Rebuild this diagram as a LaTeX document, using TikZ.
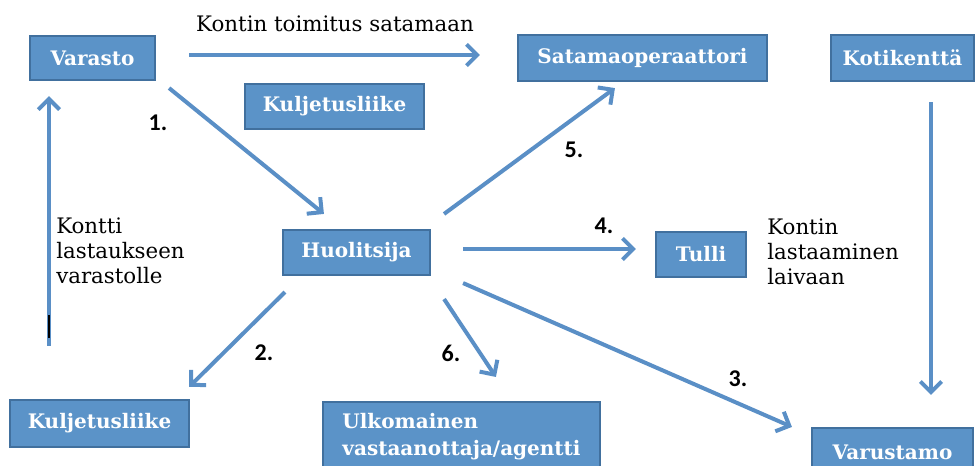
\documentclass[tikz,border=0pt]{standalone}
\usepackage{fontspec}
\setmainfont{DejaVu Serif}
\newfontfamily\numfont{Carlito}
\usetikzlibrary{arrows.meta,calc,shadows}
\definecolor{boxfill}{HTML}{5B93C8}
\definecolor{boxline}{HTML}{41709E}
\definecolor{arrowc}{HTML}{5A8FC6}
\tikzset{
  box/.style 2 args={draw=boxline, line width=1.6pt, fill=boxfill, text=white,
    font=\fontsize{15}{20.25}\selectfont\bfseries, inner sep=0pt,
    drop shadow={shadow xshift=0.9pt, shadow yshift=-0.9pt, opacity=0.2, fill=black},
    minimum width=#1*0.75pt, minimum height=#2*0.75pt},
  conn/.style={draw=arrowc, line width=3pt, -{Straight Barb[length=8pt,width=16pt,line width=3pt]}},
  lbl/.style={font=\fontsize{16}{18.75}\selectfont, text=black, inner sep=0pt, align=left},
  num/.style={font=\fontsize{18}{20}\selectfont\numfont\bfseries, text=black, inner sep=0pt}
}
\begin{document}
\begin{tikzpicture}[x=0.75pt,y=-0.75pt]
\useasboundingbox (0,0) rectangle (978,465);
\clip (0,0) rectangle (978,465);
% boxes
\node[box={125}{44}] (varasto) at (92.5,58) {Varasto};
\node[box={179}{45}] (kulj1) at (334.5,106.5) {Kuljetusliike};
\node[box={249}{46}] (sat) at (642.5,58) {Satamaoperaattori};
\node[box={143}{46}] (kot) at (902.5,58) {Kotikenttä};
\node[box={147}{45}] (huol) at (356.5,252.5) {Huolitsija};
\node[box={90}{45}] (tulli) at (701,254.5) {Tulli};
\node[box={179}{47}] (kulj2) at (99.5,423.5) {Kuljetusliike};
\node[box={277}{70}, align=left] (ulk) at (461.5,437) {Ulkomainen\\vastaanottaja/agentti};
\node[box={161}{48}] (varu) at (892.5,452) {Varustamo};
% labels
\node[lbl] (l0) at (335,24) {Kontin toimitus satamaan};
\node[lbl, anchor=west] (l1) at (56,251) {Kontti\\lastaukseen\\varastolle};
\node[lbl, anchor=west] (l2) at (767,252) {Kontin\\lastaaminen\\laivaan};
\node[num] (n1) at (158,123) {1.};
\node[num] (n2) at (264,353) {2.};
\node[num] (n3) at (738,379) {3.};
\node[num] (n4) at (604,226) {4.};
\node[num] (n5) at (574,150) {5.};
\node[num] (n6) at (451,353) {6.};
% free end
\coordinate (upstart) at ($(kulj2.north west)+(40,-53)$);
% connectors
\draw[conn] ($(varasto.east)+(33,-3)$) -- ($(sat.west)+(-37,-3)$);
\draw[conn] ($(varasto.south east)+(13,7)$) -- ($(huol.north west)+(42,-15)$);
\draw[conn] (upstart) -- ($(varasto.south west)+(20,15)$);
\draw[conn] ($(huol.north east)+(13,-15)$) -- ($(sat.south west)+(98,6)$);
\draw[conn] ($(huol.east)+(32,-3.5)$) -- ($(tulli.west)+(-19,-5.5)$);
\draw[conn] ($(huol.south east)+(32,7)$) -- ($(varu.north west)+(-19,0)$);
\draw[conn] ($(huol.south west)+(3,16)$) -- ($(kulj2.north east)+(-1,-12)$);
\draw[conn] ($(huol.south east)+(13,23)$) -- ($(ulk.north west)+(174,-24)$);
\draw[conn] ($(kot.south)+(28.5,20)$) -- ($(varu.north)+(38.5,-32)$);
% small black mark
\draw[black, line width=1.2pt] (49,315) -- (49,338);
\end{tikzpicture}
\end{document}
